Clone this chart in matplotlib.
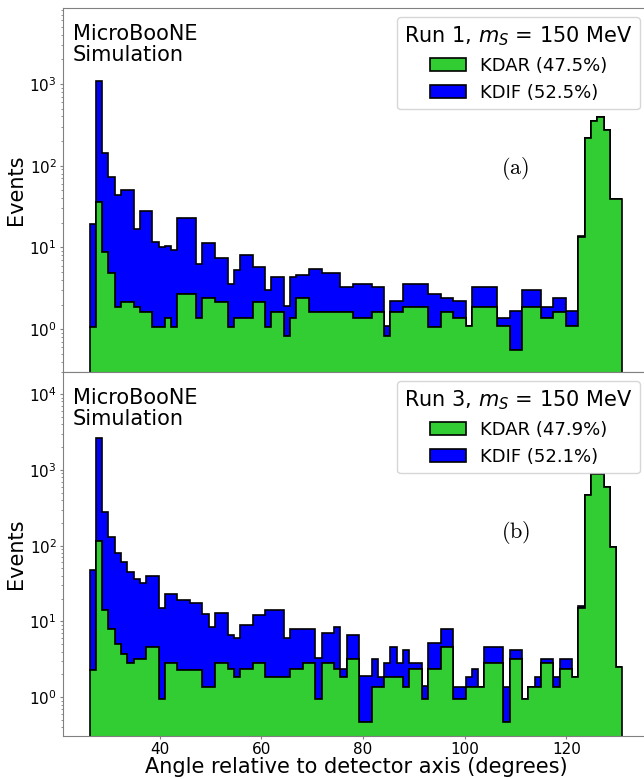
import numpy as np
import matplotlib.pyplot as plt

# =========================
# 1. Data (events per bin)
# =========================
angle_min, angle_max, n_bins = 26.25, 131.0, 85

run1_kdar = [1.08, 35.5, 8.9, 4.94, 1.89, 2.18, 2.18, 1.89, 1.63, 1.63,
             1.08, 1.08, 1.36, 1.08, 2.7, 2.7, 2.7, 1.36, 2.44, 2.44,
             2.18, 2.18, 1.08, 1.36, 1.36, 1.36, 2.18, 2.18, 1.08, 1.63,
             1.63, 0.82, 1.36, 2.44, 2.44, 1.63, 1.63, 1.63, 1.63, 1.63,
             1.63, 1.63, 1.36, 1.36, 1.36, 1.63, 1.63, 0.82, 1.63, 1.63,
             1.89, 1.89, 1.89, 1.89, 1.08, 1.08, 1.63, 1.63, 1.36, 1.36,
             1.09, 1.89, 1.89, 1.89, 1.89, 1.09, 1.09, 0.55, 0.55, 1.89,
             1.89, 1.89, 1.36, 1.36, 1.63, 1.63, 1.09, 1.09, 13.6, 220,
             355, 397, 273, 38.8, 38.8]
run1_kdif = [18.3, 1060, 132.7, 67.3, 41.6, 48.3, 48.3, 15.1, 26.3, 26.3,
             10.7, 9.1, 9.1, 8.3, 20.0, 20.0, 20.0, 4.9, 8.8, 8.8,
             5.25, 5.25, 2.47, 3.9, 6.81, 6.81, 3.54, 3.54, 1.97, 2.77,
             2.77, 1.10, 3.04, 2.21, 2.21, 3.88, 3.88, 3.29, 3.29, 3.29,
             1.66, 1.66, 2.19, 2.19, 2.19, 1.66, 1.66, 0.28, 0.57, 0.57,
             1.66, 1.66, 1.66, 1.66, 1.62, 1.62, 0.81, 0.81, 0.84, 0.84,
             0.0, 1.37, 1.37, 1.37, 1.37, 0.27, 0.27, 1.11, 1.11, 1.13,
             1.13, 1.13, 0.53, 0.53, 0.81, 0.81, 0.57, 0.57, 0.2, 0.0,
             0.0, 0.0, 0.0, 0.0, 0.0]

run3_kdar = [2.29, 116.5, 14.2, 7.96, 5.05, 3.73, 2.81, 3.23, 3.23, 4.66,
             4.66, 0.94, 2.81, 2.81, 2.29, 2.29, 2.29, 2.29, 1.38, 1.38,
             2.81, 2.81, 2.34, 1.87, 2.34, 2.34, 2.81, 2.81, 1.87, 1.87,
             1.87, 1.87, 2.34, 2.34, 2.81, 2.81, 0.94, 2.81, 2.81, 2.34,
             1.87, 3.24, 3.24, 0.47, 0.47, 1.38, 1.38, 1.87, 1.87, 1.87,
             1.38, 2.34, 2.34, 0.94, 2.34, 2.34, 4.66, 4.66, 0.94, 0.94,
             1.38, 1.38, 1.38, 2.81, 2.81, 2.81, 0.47, 3.23, 3.23, 0.94,
             1.38, 1.38, 2.81, 2.81, 1.38, 2.34, 2.34, 1.87, 15.2, 467,
             883, 883, 601, 95.1, 2.49]
run3_kdif = [45.5, 2520, 267, 123.6, 74.2, 56.6, 42.6, 32.8, 28.7, 34.7,
             34.7, 14.0, 20.0, 20.0, 16.9, 16.9, 15.4, 15.4, 11.3, 7.08,
             10.3, 10.3, 4.26, 4.25, 6.56, 6.56, 9.39, 9.39, 12.33, 12.33,
             12.33, 4.25, 5.66, 5.66, 5.19, 5.19, 2.34, 4.24, 4.24, 6.12,
             0.48, 3.32, 3.32, 1.42, 1.42, 1.86, 0.49, 0.94, 2.79, 0.94,
             2.83, 0.47, 0.47, 0.47, 2.81, 2.81, 3.22, 3.22, 0.44, 0.44,
             0.49, 0.96, 0.0, 1.85, 1.85, 1.85, 0.91, 0.98, 0.98, 0.0,
             0.0, 0.49, 0.42, 0.42, 0.49, 0.89, 0.89, 0.0, 0.8, 0.0,
             0.0, 0.0, 0.0, 0.0, 0.0]

run1_labels = ['KDAR (47.5%)', 'KDIF (52.5%)']
run3_labels = ['KDAR (47.9%)', 'KDIF (52.1%)']
run1_title = r'Run 1, $m_S$ = 150 MeV'
run3_title = r'Run 3, $m_S$ = 150 MeV'

edges = np.linspace(angle_min, angle_max, n_bins + 1)
centers = 0.5 * (edges[1:] + edges[:-1])

# =========================
# 2. Figure
# =========================
fig = plt.figure(figsize=(6.44, 7.79), dpi=100)
ax1 = fig.add_axes([63/644, 407/779, 586/644, 364/779])
ax2 = fig.add_axes([63/644, 43/779, 586/644, 364/779], sharex=ax1)

panels = [
    (ax1, run1_kdar, run1_kdif, run1_labels, run1_title, '(a)', (0.3, 8470)),
    (ax2, run3_kdar, run3_kdif, run3_labels, run3_title, '(b)', (0.308, 19580)),
]

for ax, kdar, kdif, labels, title, tag, ylim in panels:
    _, _, patches = ax.hist([centers, centers], bins=edges,
                            weights=[kdar, kdif], stacked=True,
                            histtype='stepfilled', log=True,
                            color=['limegreen', 'blue'], edgecolor='black',
                            linewidth=1.2)
    ax.set_ylim(*ylim)
    ax.set_ylabel('Events', fontsize=15, labelpad=2)
    ax.tick_params(which='major', labelsize=11, length=2.5, pad=2,
                   color='#808080')
    ax.tick_params(which='minor', length=1.5, color='#808080')
    for sp in ax.spines.values():
        sp.set_color('#808080')
    ax.text(0.017, 0.955, 'MicroBooNE\nSimulation', transform=ax.transAxes,
            fontsize=15, va='top', ha='left', linespacing=1.05)
    ax.text(0.772, 0.56, r'$\mathrm{' + tag + '}$', transform=ax.transAxes,
            fontsize=16, ha='center', va='center', math_fontfamily='cm')
    ax.legend(handles=[patches[0][0], patches[1][0]], labels=labels,
              loc='upper right', fontsize=13, title=title, title_fontsize=15)

plt.setp(ax1.get_xticklabels(), visible=False)
ax2.set_xlabel('Angle relative to detector axis (degrees)', fontsize=15,
               labelpad=0)

plt.savefig('out.png', dpi=100)
